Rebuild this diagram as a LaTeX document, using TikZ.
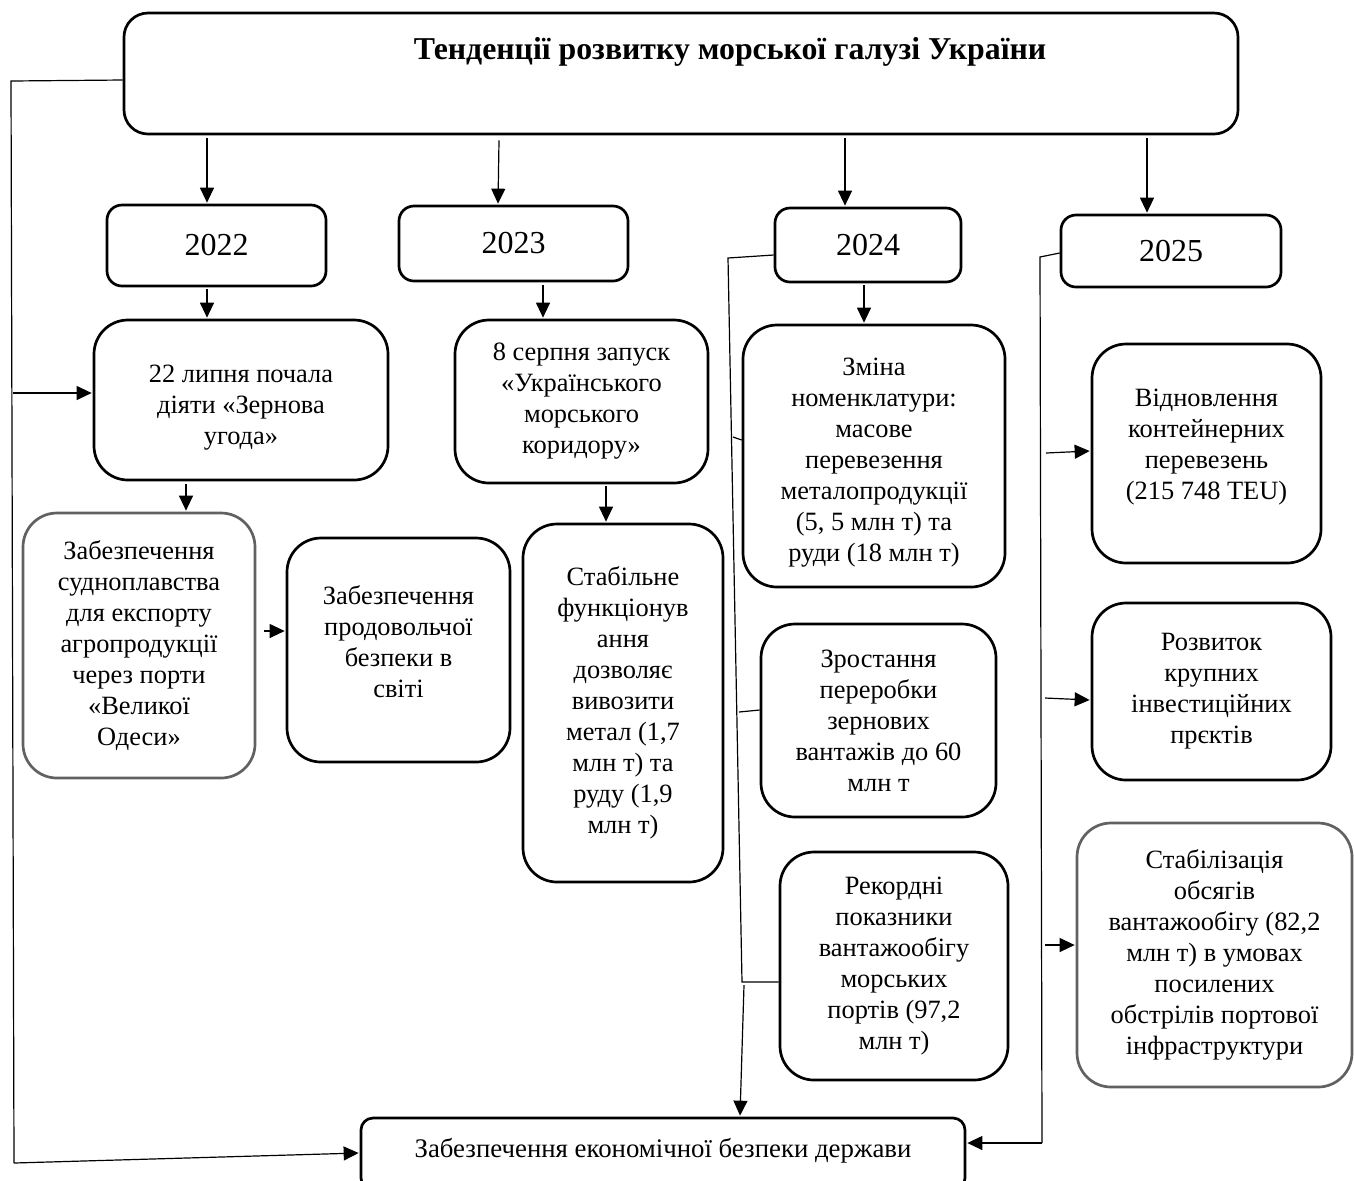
\documentclass[tikz,border=0pt]{standalone}
\usepackage{fontspec}
\setmainfont{Liberation Serif}
\usetikzlibrary{arrows.meta}
\begin{document}
\begin{tikzpicture}[x=0.5pt,y=-0.5pt,
  box/.style={draw, line width=1.35pt, rounded corners=17pt, align=center, inner sep=0pt,
    font=\fontsize{13.2}{15.5}\selectfont},
  greybox/.style={box, draw=black!62},
  yearbox/.style={draw, line width=1.35pt, rounded corners=7.5pt, inner sep=0pt,
    font=\fontsize{16}{19}\selectfont},
  arr/.style={line width=0.6pt, -{Triangle[length=7.5pt,width=7pt]}},
  ln/.style={line width=0.6pt},
]
\path[use as bounding box, clip] (0,0) rectangle (1354,1180);

% title
\node[draw, line width=1.35pt, rounded corners=12pt, minimum width=557pt, minimum height=60.5pt, inner sep=0pt] (title) at (681,73.5) {};
\node[font=\fontsize{15.9}{19}\selectfont\bfseries, inner sep=0pt] (titletext) at (730,52) {Тенденції розвитку морської галузі України};

% years
\node[yearbox, minimum width=109.5pt, minimum height=40.5pt] (y22) at (216.5,245.5) {2022};
\node[yearbox, minimum width=114.5pt, minimum height=37.5pt] (y23) at (513.5,243.5) {2023};
\node[yearbox, minimum width=93pt, minimum height=37pt] (y24) at (868,245) {2024};
\node[yearbox, minimum width=110pt, minimum height=36pt] (y25) at (1171,251) {2025};

% 2022
\node[box, minimum width=147pt, minimum height=80pt] (b22a) at (241,400) {\rule{0pt}{15.9pt}22 липня почала\\діяти «Зернова\\угода»};
\node[greybox, minimum width=116pt, minimum height=132.5pt] (b22b) at (139,645.5) {Забезпечення\\судноплавства\\для експорту\\агропродукції\\через порти\\«Великої\\Одеси»};
\node[box, minimum width=111.5pt, minimum height=112pt] (b22c) at (398.5,650) {Забезпечення\\продовольчої\\безпеки в\\світі\rule[-8pt]{0pt}{0pt}};

% 2023
\node[box, minimum width=126.5pt, minimum height=81.5pt] (b23a) at (581.5,401.5) {8 серпня запуск\\«Українського\\морського\\коридору»};
\node[box, minimum width=100pt, minimum height=179pt] (b23b) at (623,703) {Стабільне\\функціонув\\ання\\дозволяє\\вивозити\\метал (1,7\\млн т) та\\руду (1,9\\млн т)};

% 2024
\node[box, minimum width=131pt, minimum height=131pt] (b24a) at (874,456) {\rule{0pt}{15pt}Зміна\\номенклатури:\\масове\\перевезення\\металопродукції\\(5, 5 млн т) та\\руди (18 млн т)};
\node[box, minimum width=117.5pt, minimum height=96.5pt] (b24b) at (878.5,720.5) {Зростання\\переробки\\зернових\\вантажів до 60\\млн т};
\node[box, minimum width=114pt, minimum height=114pt] (b24c) at (894,966) {Рекордні\\показники\\вантажообігу\\морських\\портів (97,2\\млн т)};

% 2025
\node[box, minimum width=114.5pt, minimum height=109.5pt] (b25a) at (1206.5,453.5) {Відновлення\\контейнерних\\перевезень\\(215 748 TEU)\rule[-8.9pt]{0pt}{0pt}};
\node[box, minimum width=119.5pt, minimum height=88.5pt] (b25b) at (1211.5,691.5) {Розвиток\\крупних\\інвестиційних\\прєктів};
\node[greybox, minimum width=137.5pt, minimum height=132pt] (b25c) at (1214.5,955) {Стабілізація\\обсягів\\вантажообігу (82,2\\млн т) в умовах\\посилених\\обстрілів портової\\інфраструктури};

% bottom
\node[draw, line width=1.35pt, rounded corners=6pt, minimum width=302pt, minimum height=36pt, inner sep=0pt,
  font=\fontsize{13.4}{16}\selectfont, text height=14pt, text depth=11pt] (bottom) at (663,1154) {Забезпечення економічної безпеки держави};

% title -> years
\draw[arr] ([shift={(-474,3)}]title.south) -- ([shift={(-9.5,-1)}]y22.north);
\draw[arr] ([shift={(-182,5)}]title.south) -- ([shift={(-15.5,-1)}]y23.north);
\draw[arr] ([shift={(164,3)}]title.south) -- ([shift={(-23,-1)}]y24.north);
\draw[arr] ([shift={(466,3)}]title.south) -- ([shift={(-24,-1)}]y25.north);

% years -> first boxes
\draw[arr] ([shift={(-9.5,2)}]y22.south) -- ([shift={(-34,-1)}]b22a.north);
\draw[arr] ([shift={(29.5,3)}]y23.south) -- ([shift={(-38.5,-1)}]b23a.north);
\draw[arr] ([shift={(-4,2)}]y24.south) -- ([shift={(-10,-1)}]b24a.north);
\draw[arr] ([shift={(-55,3)}]b22a.south) -- ([shift={(47,-1)}]b22b.north);
\draw[arr] ([shift={(24.5,2)}]b23a.south) -- ([shift={(-17,-1)}]b23b.north);
\draw[arr] ([shift={(8,-14.5)}]b22b.east) -- ([shift={(-1,-19)}]b22c.west);

% left loop
\coordinate (L1) at (11,81);
\coordinate (L2) at (14,1163);
\coordinate (L3) at (13,393);
\draw[ln] ([shift={(0,6.5)}]title.west) -- (L1) -- (L2);
\draw[arr] (L2) -- ([shift={(-1,-1)}]bottom.west);
\draw[arr] (L3) -- ([shift={(-1,-7)}]b22a.west);

% 2024 bracket
\coordinate (M1) at (728,258);
\coordinate (M2) at (742,982);
\coordinate (M3) at (733,437);
\coordinate (M4) at (739,712);
\coordinate (M5) at (744,985);
\draw[ln] ([shift={(0,10)}]y24.west) -- (M1) -- (M2) -- ([shift={(0,16)}]b24c.west);
\draw[ln] (M3) -- ([shift={(0,-16)}]b24a.west);
\draw[ln] (M4) -- ([shift={(0,-10.5)}]b24b.west);
\draw[arr] (M5) -- ([shift={(77,-1)}]bottom.north);

% 2025 bracket
\coordinate (R1) at (1040,257);
\coordinate (R2) at (1042,1143);
\coordinate (R3) at (1046,453);
\coordinate (R4) at (1045,698);
\coordinate (R5) at (1045,945);
\draw[ln] ([shift={(0,2)}]y25.west) -- (R1) -- (R2);
\draw[arr] (R2) -- ([shift={(1,-11)}]bottom.east);
\draw[arr] (R3) -- ([shift={(-1,-2.5)}]b25a.west);
\draw[arr] (R4) -- ([shift={(-1,8.5)}]b25b.west);
\draw[arr] (R5) -- ([shift={(-1,-10)}]b25c.west);
\end{tikzpicture}
\end{document}
